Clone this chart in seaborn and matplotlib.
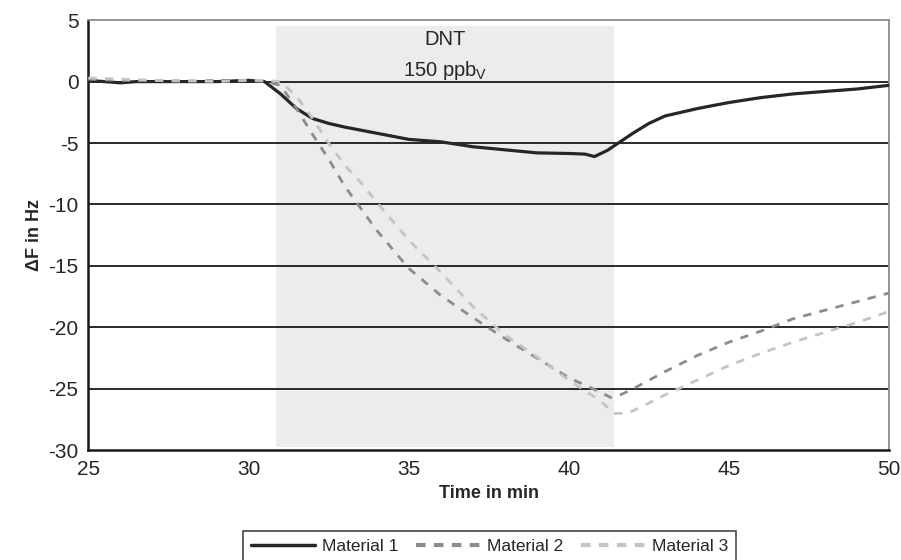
"""DNT 150 ppbV 노출 — 재료별 주파수 변화 (ΔF) 재현."""
import matplotlib.pyplot as plt
import pandas as pd
import seaborn as sns

# Material 1 (검정 실선)
T1 = [25, 25.5, 26, 26.5, 27, 28, 29, 30, 30.5, 31, 31.5, 32, 32.5, 33, 34, 35, 36, 37,
      38, 39, 40, 40.5, 40.8, 41.2, 41.6, 42, 42.5, 43, 44, 45, 46, 47, 48, 49, 50]
F1 = [0.1, 0.0, -0.1, 0.0, 0.0, 0.0, 0.0, 0.1, 0.0, -1.0, -2.2, -3.0, -3.4, -3.7, -4.2,
      -4.7, -4.9, -5.3, -5.55, -5.8, -5.85, -5.9, -6.1, -5.6, -4.9, -4.2, -3.4, -2.8, -2.2,
      -1.7, -1.3, -1.0, -0.8, -0.6, -0.3]

# Material 2 (진회색 파선)
T2 = [25, 26, 27, 28, 29, 30, 30.5, 31, 31.5, 32, 32.5, 33, 34, 35, 36, 37, 38, 39, 40,
      41, 41.3, 41.6, 42, 43, 44, 45, 46, 47, 48, 49, 50]
F2 = [0.2, 0.1, 0.1, 0.0, 0.1, 0.1, 0.0, -0.3, -2.2, -4.3, -6.3, -8.5, -12.1, -15.2,
      -17.4, -19.2, -20.9, -22.5, -24.1, -25.3, -25.7, -25.5, -25.0, -23.6, -22.3, -21.2,
      -20.3, -19.3, -18.6, -17.9, -17.2]

# Material 3 (연회색 파선)
T3 = [25, 26, 27, 28, 29, 30, 30.5, 31, 31.5, 32, 32.5, 33, 33.5, 34, 35, 36, 37, 38,
      39, 40, 41, 41.4, 41.7, 42, 43, 44, 45, 46, 47, 48, 49, 50]
F3 = [0.3, 0.2, 0.1, 0.1, 0.0, 0.1, 0.1, 0.0, -1.2, -3.0, -5.0, -6.8, -8.2, -9.8, -12.9,
      -15.5, -18.3, -20.6, -22.4, -24.3, -26.0, -27.0, -27.0, -26.8, -25.5, -24.3, -23.1,
      -22.1, -21.2, -20.4, -19.6, -18.7]

SERIES = ["Material 1", "Material 2", "Material 3"]
COLORS = ["#262626", "#8c8c8c", "#c4c4c4"]
EXPOSURE = (30.85, 41.4)

sns.set_style("white")
plt.rcParams["font.family"] = ["Liberation Sans", "DejaVu Sans"]
plt.rcParams["axes.unicode_minus"] = False

df = pd.concat([
    pd.DataFrame({"t": T1, "dF": F1, "mat": SERIES[0]}),
    pd.DataFrame({"t": T2, "dF": F2, "mat": SERIES[1]}),
    pd.DataFrame({"t": T3, "dF": F3, "mat": SERIES[2]}),
], ignore_index=True)

fig = plt.figure(figsize=(9.01, 5.6), dpi=100)
ax = fig.add_axes([0.098, 0.196, 0.889, 0.768])

ax.fill_between([EXPOSURE[0], EXPOSURE[1]], -29.7, 4.5, color="#ececec", lw=0, zorder=0)
for y in range(-25, 5, 5):
    ax.axhline(y, color="#1a1a1a", lw=1.3, zorder=1)

sns.lineplot(data=df, x="t", y="dF", hue="mat", style="mat", palette=COLORS,
             dashes=[(None, None), (3, 3), (3, 3)], ax=ax,
             legend=False, zorder=3, sort=False)
for line, lw in zip(ax.get_lines()[-3:], (2.3, 2.0, 2.0)):
    line.set_linewidth(lw)

ax.text(36.15, 3.4, "DNT", ha="center", va="center", fontsize=14.5)
ax.text(36.15, 0.9, "150 ppb$_\\mathregular{V}$", ha="center", va="center", fontsize=14.5)

ax.set_xlim(25, 50)
ax.set_ylim(-30, 5)
ax.set_xticks(range(25, 51, 5))
ax.set_yticks(range(-30, 6, 5))
ax.tick_params(axis="both", direction="out", length=5, width=1.5, color="#1a1a1a",
               labelsize=15, pad=2)
for side in ("left", "bottom"):
    ax.spines[side].set_color("#1a1a1a")
    ax.spines[side].set_linewidth(1.8)
for side in ("top", "right"):
    ax.spines[side].set_color("#8c8c8c")
    ax.spines[side].set_linewidth(1.3)
ax.set_xlabel("Time in min", fontsize=13, fontweight="bold", labelpad=4)
ax.set_ylabel("ΔF in Hz", fontsize=13, fontweight="bold", labelpad=4)

handles = [plt.Line2D([], [], color=COLORS[0], lw=2.5),
           plt.Line2D([], [], color=COLORS[1], lw=3, dashes=(2.3, 2)),
           plt.Line2D([], [], color=COLORS[2], lw=3, dashes=(2.3, 2))]
leg = fig.legend(handles, SERIES, loc="upper center", bbox_to_anchor=(0.5433, 0.0518),
                 ncol=3, fontsize=12.5, frameon=True, fancybox=False, handlelength=3.7,
                 columnspacing=1.0, handletextpad=0.4, borderpad=0.45, borderaxespad=0)
leg.get_frame().set_edgecolor("#1a1a1a")
leg.get_frame().set_linewidth(1.2)

fig.savefig("out.png", dpi=100, facecolor="white")
